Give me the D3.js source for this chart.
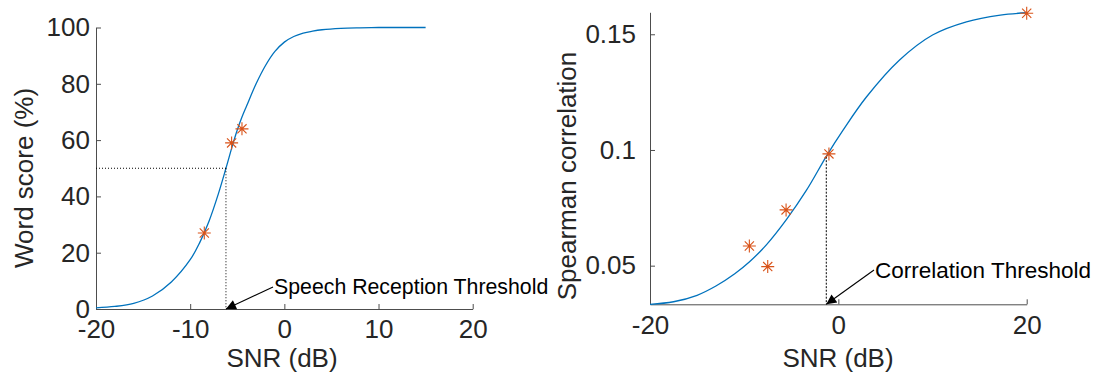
<!DOCTYPE html>
<html>
<head>
<meta charset="utf-8">
<script src="https://cdn.jsdelivr.net/npm/d3@7"></script>
<style>
  html, body { margin: 0; padding: 0; background: #ffffff; }
  svg { display: block; font-family: "Liberation Sans", Arial, Helvetica, sans-serif; }
</style>
</head>
<body>
<svg id="chart" width="1096" height="380"></svg>
<script>
// ---------- Left panel data (word score vs SNR) ----------
const wordFitSnr   = [-20, -18, -16, -14, -12, -10, -9, -8, -7, -6.2, -5.5, -5, -4.5, -4, -3, -2, -1, 0, 1, 2, 3, 4, 6, 8, 10, 12, 15];
const wordFitScore = [0.4, 0.9, 2.0, 4.6, 9.6, 17.5, 23.5, 31.2, 41, 50, 58.2, 63.6, 68.2, 72.2, 80, 86.5, 91.5, 94.8, 96.8, 98, 98.7, 99.2, 99.7, 99.9, 100, 100, 100];
const wordObsSnr   = [-8.5, -5.6, -4.5];
const wordObsScore = [27, 59, 64];
const srtSnr = -6.2;
const srtLevel = 50;
const leftXTicks = [-20, -10, 0, 10, 20];
const leftYTicks = [0, 20, 40, 60, 80, 100];

// ---------- Right panel data (Spearman correlation vs SNR) ----------
const corrFitSnr = [-20, -17.5, -15, -13, -11, -9.4, -7.6, -5.5, -3.4, -1.2, 0.5, 3, 6.5, 10, 13.6, 17.2, 20];
const corrFitVal = [0.0333, 0.0344, 0.0372, 0.0412, 0.0465, 0.0518, 0.0592, 0.0700, 0.0825, 0.0978, 0.1086, 0.1230, 0.1389, 0.1497, 0.1554, 0.1583, 0.1593];
const corrObsSnr = [-9.45, -7.5, -5.55, -1.0, 20];
const corrObsVal = [0.0585, 0.0496, 0.0741, 0.0983, 0.1591];
const ctSnr = -1.28;
const ctLevel = 0.0971;
const rightXTicks = [-20, 0, 20];
const rightYTicks = [0.05, 0.1, 0.15];

const labels = {
  leftX: "SNR (dB)", leftY: "Word score (%)", leftNote: "Speech Reception Threshold",
  rightX: "SNR (dB)", rightY: "Spearman correlation", rightNote: "Correlation Threshold"
};

const COL_LINE = "#0072BD", COL_MARK = "#D95319", COL_TEXT = "#262626", COL_AXIS = "#4d4d4d";

const svg = d3.select("#chart");
svg.append("rect").attr("width", 1096).attr("height", 380).attr("fill", "#fff");

const defs = svg.append("defs");
defs.append("marker").attr("id", "arrow").attr("viewBox", "0 0 10 10")
  .attr("refX", 10).attr("refY", 5).attr("markerWidth", 15).attr("markerHeight", 10)
  .attr("markerUnits", "userSpaceOnUse").attr("orient", "auto")
  .append("path").attr("d", "M0,0 L10,5 L0,10 Z").attr("fill", "#000");

function star(g, x, y, s) {
  const d = s * 0.7071;
  g.append("path")
    .attr("d", `M${x - s},${y}h${2 * s}M${x},${y - s}v${2 * s}M${x - d},${y - d}l${2 * d},${2 * d}M${x - d},${y + d}l${2 * d},${-2 * d}`)
    .attr("stroke", COL_MARK).attr("stroke-width", 1.1).attr("fill", "none");
}

function styleAxis(g, size) {
  g.select(".domain").attr("stroke", COL_AXIS).attr("stroke-width", 1);
  g.selectAll(".tick line").attr("stroke", COL_AXIS).attr("stroke-width", 1);
  g.selectAll(".tick text").attr("fill", COL_TEXT).attr("font-size", size)
    .attr("font-family", "Liberation Sans, Arial, sans-serif");
}

function panel(cfg) {
  const g = svg.append("g");
  const x = d3.scaleLinear().domain(cfg.xDomain).range(cfg.xRange);
  const y = d3.scaleLinear().domain(cfg.yDomain).range(cfg.yRange);

  const xa = g.append("g").attr("transform", `translate(0,${cfg.yRange[0]})`)
    .call(d3.axisBottom(x).tickValues(cfg.xTicks).tickSizeInner(-5).tickSizeOuter(0).tickPadding(11).tickFormat(d => String(d)));
  styleAxis(xa, 26);
  const ya = g.append("g").attr("transform", `translate(${cfg.xRange[0]},0)`)
    .call(d3.axisLeft(y).tickValues(cfg.yTicks).tickSizeInner(-5).tickSizeOuter(0).tickPadding(cfg.yPad).tickFormat(d => String(d)));
  styleAxis(ya, 26);

  // fitted curve
  const pts = cfg.fitX.map((v, i) => [v, cfg.fitY[i]]);
  g.append("path").datum(pts)
    .attr("d", d3.line().x(d => x(d[0])).y(d => y(d[1])).curve(d3.curveCatmullRom.alpha(0.5)))
    .attr("fill", "none").attr("stroke", COL_LINE).attr("stroke-width", 1.3);

  // threshold guide lines
  if (cfg.hGuide) {
    g.append("line").attr("x1", x(cfg.xDomain[0])).attr("x2", x(cfg.thX))
      .attr("y1", y(cfg.thY)).attr("y2", y(cfg.thY))
      .attr("stroke", "#000").attr("stroke-width", 1).attr("stroke-dasharray", "1,2");
  }
  g.append("line").attr("x1", x(cfg.thX)).attr("x2", x(cfg.thX))
    .attr("y1", y(cfg.thY)).attr("y2", cfg.yRange[0])
    .attr("stroke", "#000").attr("stroke-width", 1).attr("stroke-dasharray", cfg.dash);

  // observed points
  cfg.obsX.forEach((v, i) => star(g, x(v), y(cfg.obsY[i]), 6.5));

  // annotation
  g.append("line").attr("x1", cfg.note.x - 1).attr("y1", cfg.note.ly)
    .attr("x2", x(cfg.thX)).attr("y2", cfg.yRange[0])
    .attr("stroke", "#000").attr("stroke-width", 1.1).attr("marker-end", "url(#arrow)");
  g.append("text").attr("x", cfg.note.x).attr("y", cfg.note.y)
    .attr("font-size", cfg.note.size).attr("fill", "#000").text(cfg.note.text);

  // axis labels
  g.append("text").attr("x", cfg.xLab.x).attr("y", cfg.xLab.y).attr("text-anchor", "middle")
    .attr("font-size", 26).attr("fill", COL_TEXT).text(cfg.xLab.text);
  g.append("text").attr("transform", `translate(${cfg.yLab.x},${cfg.yLab.y}) rotate(-90)`)
    .attr("text-anchor", "middle").attr("font-size", 26).attr("fill", COL_TEXT).text(cfg.yLab.text);
}

panel({
  xDomain: [-20, 20], xRange: [96, 472.7], yDomain: [0, 100], yRange: [309, 27.5],
  xTicks: leftXTicks, yTicks: leftYTicks, yPad: 6,
  fitX: wordFitSnr, fitY: wordFitScore, obsX: wordObsSnr, obsY: wordObsScore,
  thX: srtSnr, thY: srtLevel, hGuide: true, dash: "1,2",
  note: { x: 274, y: 294, ly: 287, size: 21.3, text: labels.leftNote },
  xLab: { x: 282, y: 367, text: labels.leftX },
  yLab: { x: 33, y: 178, text: labels.leftY }
});

panel({
  xDomain: [-20, 20], xRange: [650, 1026.7], yDomain: [0.0333, 0.1595], yRange: [304.3, 12.3],
  xTicks: rightXTicks, yTicks: rightYTicks, yPad: 14,
  fitX: corrFitSnr, fitY: corrFitVal, obsX: corrObsSnr, obsY: corrObsVal,
  thX: ctSnr, thY: ctLevel, hGuide: false, dash: "2,1.5",
  note: { x: 875, y: 278, ly: 270, size: 22.5, text: labels.rightNote },
  xLab: { x: 838, y: 367, text: labels.rightX },
  yLab: { x: 576, y: 176, text: labels.rightY }
});
</script>
</body>
</html>
